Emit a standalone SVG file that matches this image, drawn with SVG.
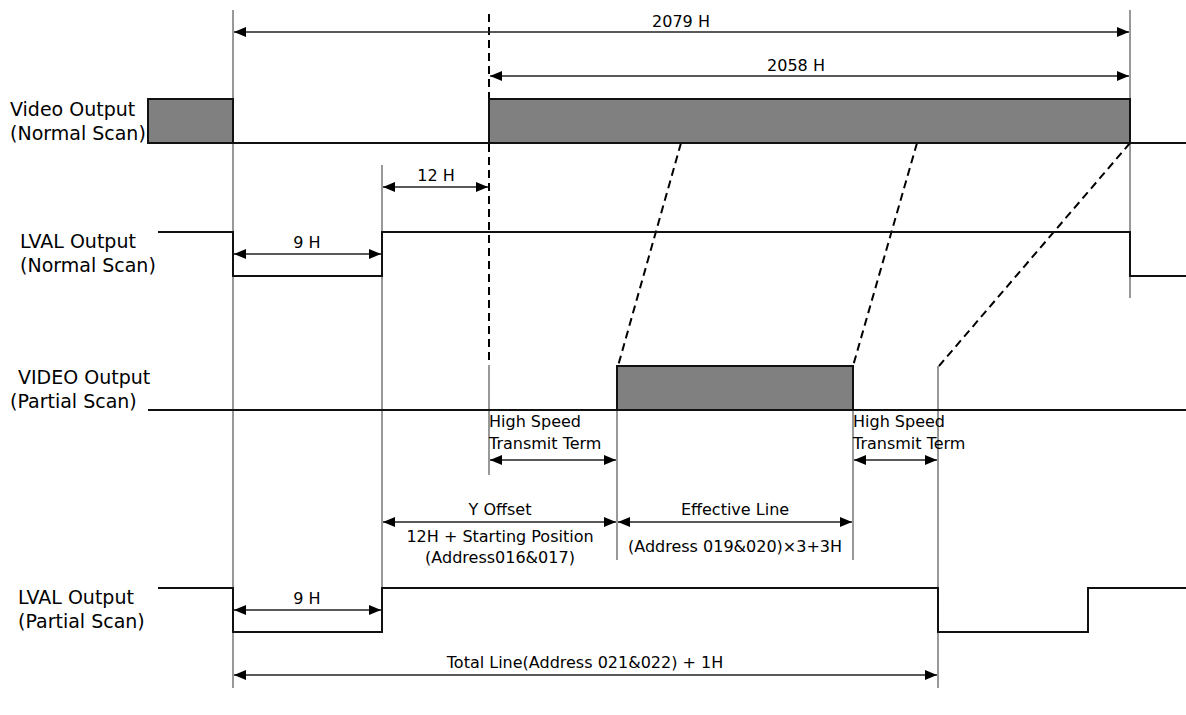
<svg xmlns="http://www.w3.org/2000/svg" width="1186" height="715" viewBox="0 0 1186 715">
<defs>
<marker id="ah" markerWidth="12" markerHeight="10" refX="12" refY="5" orient="auto-start-reverse" markerUnits="userSpaceOnUse">
<path d="M0,0 L12,5 L0,10 Z" fill="#000"/>
</marker>
</defs>
<style>
text{font-family:"DejaVu Sans",sans-serif;font-size:19px;fill:#000}
.sm{font-size:16px}
.ref{stroke:#333;stroke-width:1;fill:none}
.sig{stroke:#111;stroke-width:2;fill:none}
.dash{stroke:#000;stroke-width:2;stroke-dasharray:8,5;fill:none}
.dim{stroke:#222;stroke-width:1.3;fill:none;marker-start:url(#ah);marker-end:url(#ah)}
.box{fill:#808080;stroke:#111;stroke-width:2}
</style>
<rect width="1186" height="715" fill="#fff"/>
<g id="connectors">
<line class="ref" x1="233" y1="10" x2="233" y2="688"/>
<line class="ref" x1="1130" y1="10" x2="1130" y2="298"/>
<line class="ref" x1="382" y1="165" x2="382" y2="632"/>
<line class="ref" x1="489" y1="365" x2="489" y2="475"/>
<line class="ref" x1="617" y1="410" x2="617" y2="560"/>
<line class="ref" x1="853" y1="410" x2="853" y2="560"/>
<line class="ref" x1="938" y1="366" x2="938" y2="688"/>
<line class="dash" x1="489" y1="14" x2="489" y2="365"/>
<line class="dash" x1="681" y1="143" x2="618" y2="366"/>
<line class="dash" x1="917" y1="143" x2="853" y2="366"/>
<line class="dash" x1="1130" y1="143" x2="939" y2="366"/>
<line class="dim" x1="234" y1="32" x2="1129" y2="32"/>
<line class="dim" x1="490" y1="76" x2="1129" y2="76"/>
<line class="dim" x1="383" y1="187" x2="488" y2="187"/>
<line class="dim" x1="234" y1="254" x2="381" y2="254"/>
<line class="dim" x1="490" y1="460" x2="616" y2="460"/>
<line class="dim" x1="854" y1="460" x2="937" y2="460"/>
<line class="dim" x1="383" y1="522" x2="616" y2="522"/>
<line class="dim" x1="618" y1="522" x2="852" y2="522"/>
<line class="dim" x1="234" y1="610" x2="381" y2="610"/>
<line class="dim" x1="234" y1="675" x2="937" y2="675"/>
</g>
<g id="video-normal">
<line class="sig" x1="233" y1="143" x2="1186" y2="143"/>
<rect class="box" x="148" y="99" width="85" height="44"/>
<rect class="box" x="489" y="99" width="641" height="44"/>
<text x="10" y="116">Video Output</text>
<text x="10" y="140">(Normal Scan)</text>
</g>
<g id="lval-normal">
<polyline class="sig" points="158,232 233,232 233,276 382,276 382,232 1130,232 1130,276 1186,276"/>
<text x="20" y="248">LVAL Output</text>
<text x="20" y="272">(Normal Scan)</text>
</g>
<g id="video-partial">
<line class="sig" x1="148" y1="410" x2="1186" y2="410"/>
<rect class="box" x="617" y="366" width="236" height="44"/>
<text x="18" y="384">VIDEO Output</text>
<text x="10" y="408">(Partial Scan)</text>
</g>
<g id="lval-partial">
<polyline class="sig" points="158,588 233,588 233,632 382,632 382,588 938,588 938,632 1088,632 1088,588 1186,588"/>
<text x="18" y="604">LVAL Output</text>
<text x="18" y="628">(Partial Scan)</text>
</g>
<g id="labels">
<text class="sm" x="681" y="27" text-anchor="middle">2079 H</text>
<text class="sm" x="796" y="71" text-anchor="middle">2058 H</text>
<text class="sm" x="436" y="181" text-anchor="middle">12 H</text>
<text class="sm" x="307" y="248" text-anchor="middle">9 H</text>
<text class="sm" x="489" y="427">High Speed</text>
<text class="sm" x="489" y="449">Transmit Term</text>
<text class="sm" x="853" y="427">High Speed</text>
<text class="sm" x="853" y="449">Transmit Term</text>
<text class="sm" x="500" y="515" text-anchor="middle">Y Offset</text>
<text class="sm" x="500" y="542" text-anchor="middle">12H + Starting Position</text>
<text class="sm" x="500" y="563" text-anchor="middle">(Address016&amp;017)</text>
<text class="sm" x="735" y="515" text-anchor="middle">Effective Line</text>
<text class="sm" x="735" y="552" text-anchor="middle">(Address 019&amp;020)×3+3H</text>
<text class="sm" x="307" y="604" text-anchor="middle">9 H</text>
<text class="sm" x="585" y="668" text-anchor="middle">Total Line(Address 021&amp;022) + 1H</text>
</g>
</svg>
